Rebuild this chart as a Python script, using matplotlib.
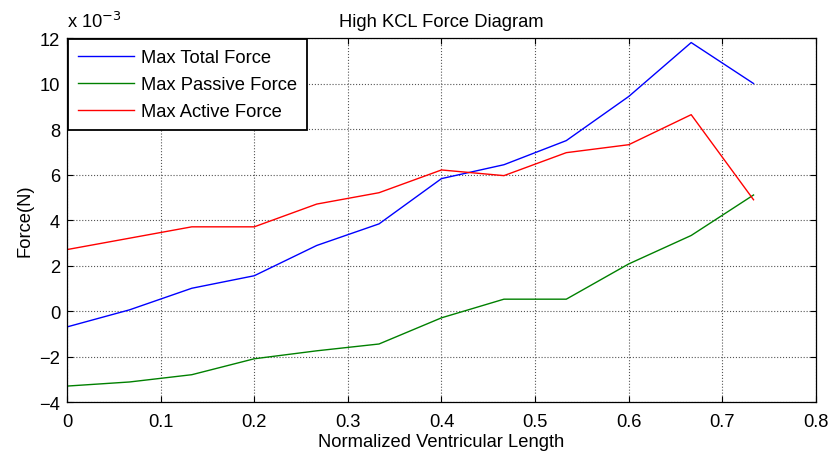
import matplotlib.pyplot as plt
import numpy as np

plt.rcParams['font.family'] = ['Liberation Sans', 'DejaVu Sans']

# normalized ventricular length samples
length = [0, 0.0667, 0.1333, 0.2, 0.2667, 0.3333, 0.4, 0.4667, 0.5333, 0.6, 0.6667, 0.7333]

# forces in units of 1e-3 N
total_force = [-0.7, 0.05, 1.0, 1.55, 2.88, 3.83, 5.82, 6.43, 7.49, 9.43, 11.8, 10.0]
passive_force = [-3.3, -3.12, -2.8, -2.1, -1.75, -1.45, -0.3, 0.52, 0.52, 2.07, 3.32, 5.1]
active_force = [2.7, 3.2, 3.7, 3.7, 4.7, 5.2, 6.2, 5.95, 6.96, 7.31, 8.63, 4.89]

fs = 13.2

fig = plt.figure(figsize=(8.29, 4.6), dpi=100)
ax = fig.add_axes([0.0808, 0.1239, 0.9035, 0.7913])

ax.plot(length, total_force, color='#0000ff', lw=1, label='Max Total Force')
ax.plot(length, passive_force, color='#008000', lw=1, label='Max Passive Force')
ax.plot(length, active_force, color='#ff0000', lw=1, label='Max Active Force')

ax.set_xlim(0, 0.8)
ax.set_ylim(-4, 12)
ax.set_xticks(np.arange(0, 0.81, 0.1))
ax.set_xticklabels(['0', '0.1', '0.2', '0.3', '0.4', '0.5', '0.6', '0.7', '0.8'])
ax.set_yticks(np.arange(-4, 13, 2))
ax.tick_params(direction='in', top=True, right=True, length=4, width=0.8,
               labelsize=fs, colors='black')
ax.tick_params(axis='x', pad=8)
ax.tick_params(axis='y', pad=5)
ax.grid(True, color='#555555', linestyle=':', linewidth=0.8)
for s in ax.spines.values():
    s.set_linewidth(0.9)

ax.set_xlabel('Normalized Ventricular Length', fontsize=fs, labelpad=2)
ax.set_ylabel('Force(N)', fontsize=fs, labelpad=4)
ax.set_title('High KCL Force Diagram', fontsize=fs, pad=9)
ax.text(0.0, 1.018, r'x 10$^{-3}$', transform=ax.transAxes, fontsize=fs,
        ha='left', va='bottom')

leg = ax.legend(loc='upper left', fontsize=fs, frameon=True, fancybox=False,
                borderaxespad=0.05, handlelength=3.05, handletextpad=0.38,
                labelspacing=0.55, borderpad=0.55)
leg.get_frame().set_edgecolor('black')
leg.get_frame().set_linewidth(1.3)
leg.get_frame().set_alpha(1)

fig.savefig('out.png', dpi=100)
